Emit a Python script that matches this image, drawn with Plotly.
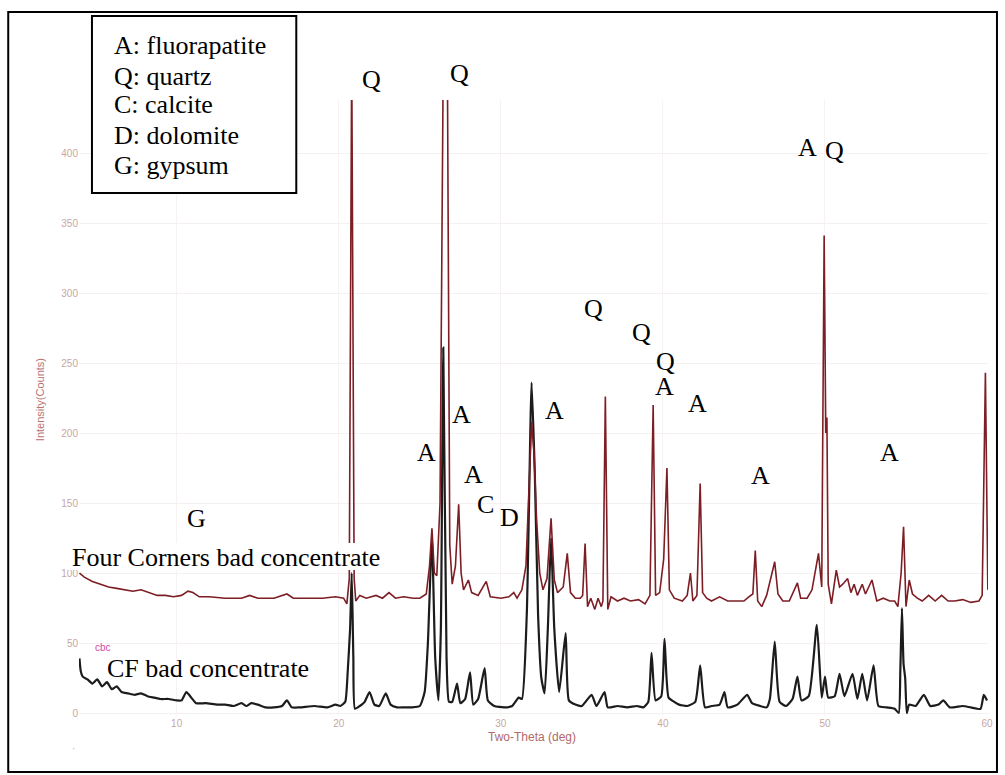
import plotly.graph_objects as go

# ---------------- data ----------------
FC_TWO_THETA = [4.0, 4.3, 4.8, 5.3, 5.8, 6.3, 6.8, 7.3, 7.8, 8.3, 8.8, 9.3, 9.8, 10.3, 10.7, 11.0, 11.4,
                12.0, 13.0, 14.0, 14.5, 15.0, 16.0, 16.8, 17.2, 18.0, 19.0, 19.8, 20.3, 20.5, 20.65, 20.8,
                20.95, 21.05, 21.3, 21.7, 22.3, 22.7, 23.1, 23.5, 24.0, 24.6, 25.0, 25.4, 25.6, 25.75,
                25.9, 26.05, 26.25, 26.45, 26.7, 26.85, 27.0, 27.2, 27.4, 27.55, 27.7, 28.0, 28.2, 28.6,
                29.1, 29.35, 30.0, 30.5, 30.8, 31.0, 31.3, 31.55, 31.75, 31.9, 32.05, 32.2, 32.4, 32.6,
                32.85, 33.1, 33.3, 33.5, 33.85, 34.1, 34.3, 34.6, 34.9, 35.05, 35.2, 35.35, 35.55, 35.8,
                36.0, 36.2, 36.3, 36.45, 36.6, 36.8, 37.2, 37.6, 38.0, 38.5, 38.9, 39.2, 39.4, 39.55,
                39.8, 40.05, 40.25, 40.4, 40.7, 41.2, 41.5, 41.7, 41.85, 42.1, 42.3, 42.45, 42.7, 43.0,
                43.5, 44.0, 44.5, 45.0, 45.3, 45.55, 45.7, 45.85, 46.1, 46.4, 46.9, 47.1, 47.4, 47.8,
                48.3, 48.5, 48.9, 49.2, 49.6, 49.8, 49.95, 50.05, 50.12, 50.2, 50.4, 50.7, 50.9, 51.1,
                51.4, 51.6, 51.8, 52.0, 52.3, 52.5, 52.9, 53.2, 53.6, 54.0, 54.3, 54.5, 54.7, 54.85,
                55.0, 55.2, 55.4, 55.7, 56.0, 56.4, 56.8, 57.2, 57.6, 58.0, 58.5, 59.0, 59.5, 59.7,
                59.9, 60.05]
FC_COUNTS = [100, 97, 94, 92, 90, 89, 88, 87, 88, 86, 84, 84, 83, 84, 87, 86, 83,
             83, 82, 82, 84, 82, 82, 85, 82, 82, 82, 83, 82, 78, 96, 470,
             96, 80, 84, 82, 84, 82, 86, 82, 83, 82, 82, 85, 105, 132,
             100, 98, 150, 470, 470, 120, 92, 105, 149, 100, 88, 95, 86, 84,
             94, 83, 82, 83, 86, 82, 88, 105, 160, 208, 185, 140, 100, 88,
             96, 139, 95, 86, 90, 114, 86, 82, 82, 84, 121, 76, 82, 74,
             82, 76, 80, 226, 74, 83, 80, 82, 80, 81, 78, 84, 220, 84,
             86, 110, 175, 88, 82, 80, 84, 100, 80, 84, 164, 86, 82, 80,
             83, 80, 80, 80, 83, 85, 116, 80, 76, 84, 108, 85, 80, 80,
             93, 82, 82, 88, 114, 90, 341, 200, 211, 92, 78, 102, 90, 92,
             96, 86, 92, 84, 92, 85, 95, 80, 82, 80, 80, 76, 100, 133,
             76, 95, 85, 82, 80, 84, 80, 84, 80, 80, 81, 79, 80, 84,
             243, 88]

CF_TWO_THETA = [4.0, 4.08, 4.2, 4.5, 4.8, 5.1, 5.4, 5.7, 6.0, 6.3, 6.6, 7.0, 7.4, 7.8, 8.2, 8.6, 9.0,
                9.5, 10.0, 10.3, 10.6, 10.9, 11.2, 11.8, 12.5, 13.0, 13.5, 14.0, 14.3, 14.6, 15.0, 15.5,
                16.0, 16.5, 16.8, 17.1, 17.6, 18.5, 19.3, 19.8, 20.1, 20.4, 20.55, 20.7, 20.8, 20.9,
                21.0, 21.3, 21.6, 21.9, 22.2, 22.5, 22.9, 23.2, 23.6, 24.0, 24.5, 25.0, 25.3, 25.5,
                25.75, 25.95, 26.15, 26.3, 26.45, 26.65, 26.8, 27.0, 27.3, 27.5, 27.8, 28.1, 28.3, 28.6,
                29.0, 29.2, 29.6, 30.2, 30.7, 31.1, 31.3, 31.6, 31.9, 32.1, 32.3, 32.5, 32.7, 32.9,
                33.1, 33.3, 33.6, 34.0, 34.2, 34.6, 35.0, 35.6, 35.9, 36.4, 36.6, 37.2, 37.8, 38.4,
                38.8, 39.1, 39.3, 39.55, 39.9, 40.1, 40.35, 40.7, 41.0, 41.5, 42.0, 42.3, 42.6, 43.0,
                43.5, 43.8, 44.0, 44.6, 45.2, 45.5, 46.0, 46.4, 46.6, 46.9, 47.2, 47.6, 48.0, 48.3,
                48.55, 49.0, 49.5, 49.8, 50.0, 50.2, 50.6, 50.9, 51.2, 51.7, 52.0, 52.3, 52.6, 53.0,
                53.3, 53.8, 54.3, 54.55, 54.65, 54.75, 54.85, 54.95, 55.05, 55.2, 55.6, 56.1, 56.5,
                57.0, 57.3, 57.7, 58.5, 59.0, 59.6, 59.8, 60.0]
CF_COUNTS = [39, 30, 26, 24, 21, 24, 19, 22, 17, 19, 15, 14, 13, 14, 12, 11, 10,
             10, 9, 9, 15, 11, 7, 7, 6, 6, 5, 7, 5, 7, 6, 4,
             4, 5, 9, 4, 4, 5, 4, 6, 5, 8, 29, 60, 100, 40,
             3, 5, 8, 15, 6, 5, 14, 6, 4, 4, 4, 5, 15, 50,
             125, 40, 9, 60, 261, 40, 8, 8, 21, 7, 10, 29, 6, 10,
             32, 9, 5, 4, 5, 11, 10, 70, 236, 170, 70, 25, 14, 60,
             125, 60, 15, 57, 9, 6, 5, 13, 5, 15, 4, 5, 4, 5,
             4, 8, 43, 9, 12, 53, 11, 8, 6, 5, 8, 34, 4, 5,
             6, 15, 4, 6, 13, 7, 5, 4, 10, 51, 8, 5, 10, 26,
             9, 12, 63, 11, 26, 11, 12, 28, 12, 28, 10, 28, 9, 34,
             5, 4, 3, 0, 30, 75, 35, 25, 0, 6, 5, 13, 5,
             6, 9, 4, 5, 4, 3, 13, 9]

Y_TICKS = [0, 50, 100, 150, 200, 250, 300, 350, 400]
X_TICKS = [10, 20, 30, 40, 50, 60]

LEGEND_LINES = ["A: fluorapatite", "Q: quartz", "C: calcite", "D: dolomite", "G: gypsum"]
SERIES_LABELS = ["Four Corners bad concentrate", "CF bad concentrate"]
PHASE_LABELS = ["Q", "Q", "A", "Q", "Q", "Q", "Q", "A", "A", "A", "A", "A", "A",
                "C", "D", "A", "A", "G"]

# ---------------- layout geometry (pixels) ----------------
W, H = 1005, 775
L, R, T, B = 79, 991, 100, 716


def px(x):
    return (x - L) / (R - L)


def py(y):
    return (B - y) / (B - T)


SERIF = "Liberation Serif, Times New Roman, serif"
SANS = "Liberation Sans, Arial, sans-serif"

fig = go.Figure()
fig.add_trace(go.Scatter(x=CF_TWO_THETA, y=CF_COUNTS, mode="lines",
                         line=dict(color="#1c1c1c", width=2.2, shape="spline", smoothing=0.5),
                         name=SERIES_LABELS[1], hoverinfo="x+y"))
fig.add_trace(go.Scatter(x=FC_TWO_THETA, y=FC_COUNTS, mode="lines",
                         line=dict(color="#7d1d24", width=1.6),
                         name=SERIES_LABELS[0], hoverinfo="x+y"))

fig.update_layout(
    width=W, height=H,
    margin=dict(l=L, r=W - R, t=T, b=H - B, pad=0),
    paper_bgcolor="white", plot_bgcolor="white",
    showlegend=False,
    xaxis=dict(range=[3.973, 60.06], tickvals=X_TICKS, showgrid=True, gridcolor="#f7f3f3",
               zeroline=False, showline=False, ticks="", ticklen=0,
               tickfont=dict(family=SANS, size=10, color="#c9a6a1")),
    yaxis=dict(range=[-2.14, 437.86], tickvals=Y_TICKS, showgrid=True, gridcolor="#f6f1f1",
               zeroline=False, showline=False, ticks="", ticklen=0,
               tickfont=dict(family=SANS, size=10, color="#c9a6a1")),
)

annotations = []
shapes = []

# outer frame
shapes.append(dict(type="rect", xref="paper", yref="paper",
                   x0=px(8), x1=px(1000), y0=py(772), y1=py(12),
                   line=dict(color="black", width=2), fillcolor="rgba(0,0,0,0)", layer="above"))
# legend box
shapes.append(dict(type="rect", xref="paper", yref="paper",
                   x0=px(92), x1=px(297), y0=py(193), y1=py(16),
                   line=dict(color="black", width=2), fillcolor="white", layer="above"))
# white backing behind the upper series label
shapes.append(dict(type="rect", xref="paper", yref="paper",
                   x0=px(68), x1=px(388), y0=py(570), y1=py(543),
                   line=dict(width=0), fillcolor="white", layer="above"))

legend_y = [45, 76, 105, 136, 165]
for txt, yy in zip(LEGEND_LINES, legend_y):
    annotations.append(dict(text=txt, xref="paper", yref="paper", x=px(112), y=py(yy),
                            xanchor="left", yanchor="middle", showarrow=False,
                            font=dict(family=SERIF, size=26, color="black")))

# phase labels positions (pixel centres)
label_pos = [(372, 80), (461, 73), (810, 147), (837, 150), (595, 308), (643, 332), (667, 361),
             (666, 386), (700, 403), (463, 414), (556, 410), (428, 452), (475, 474),
             (487, 504), (511, 517), (763, 475), (892, 452), (197, 518)]
for txt, (xx, yy) in zip(PHASE_LABELS, label_pos):
    annotations.append(dict(text=txt, xref="paper", yref="paper", x=px(xx), y=py(yy),
                            xanchor="center", yanchor="middle", showarrow=False,
                            font=dict(family=SERIF, size=26, color="black")))

# series labels
annotations.append(dict(text=SERIES_LABELS[0], xref="paper", yref="paper", x=px(70), y=py(557),
                        xanchor="left", yanchor="middle", showarrow=False,
                        font=dict(family=SERIF, size=26, color="black")))
annotations.append(dict(text=SERIES_LABELS[1], xref="paper", yref="paper", x=px(105), y=py(668),
                        xanchor="left", yanchor="middle", showarrow=False,
                        font=dict(family=SERIF, size=26, color="black")))

# small instrument labels
annotations.append(dict(text="cbc", xref="paper", yref="paper", x=px(93), y=py(647),
                        xanchor="left", yanchor="middle", showarrow=False,
                        font=dict(family=SANS, size=10, color="#d24aa8")))
annotations.append(dict(text="Intensity(Counts)", xref="paper", yref="paper", x=px(40), y=py(400),
                        xanchor="center", yanchor="middle", showarrow=False, textangle=-90,
                        font=dict(family=SANS, size=11, color="#b87272")))
annotations.append(dict(text="Two-Theta (deg)", xref="paper", yref="paper", x=px(533), y=py(737),
                        xanchor="center", yanchor="middle", showarrow=False,
                        font=dict(family=SANS, size=12, color="#b06a6a")))
annotations.append(dict(text="\u00b7", xref="paper", yref="paper", x=px(73), y=py(748),
                        xanchor="center", yanchor="middle", showarrow=False,
                        font=dict(family=SANS, size=10, color="#b0b0b0")))

fig.update_layout(annotations=annotations, shapes=shapes)

fig.write_html("out.html", config={"displayModeBar": False},
               post_script="document.body.style.margin='0px';")
